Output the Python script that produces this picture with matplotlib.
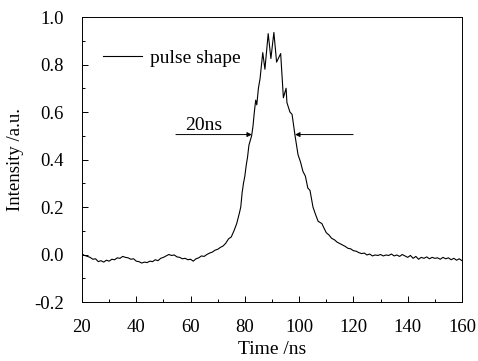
"""Pulse shape trace with FWHM arrows."""
import numpy as np
import matplotlib
matplotlib.use("Agg")
import matplotlib.pyplot as plt
from matplotlib.ticker import MultipleLocator

# -------------------------------------------------------
# Data.
# -------------------------------------------------------
time_ns = [
    20, 21, 22, 23, 24, 25, 26, 27, 28, 29,
    30, 31, 32, 33, 34, 35, 36, 37, 38, 39,
    40, 41, 42, 43, 44, 45, 46, 47, 48, 49,
    50, 51, 52, 53, 54, 55, 56, 57, 58, 59,
    60, 61, 62, 63, 64, 65, 66, 67, 68, 69,
    70, 71, 72, 73, 74, 75, 76, 77, 78, 78.5,
    79, 79.5, 80, 80.5, 81, 81.5, 82, 82.5, 83, 83.5,
    84, 84.4, 85, 85.6, 86.6, 87.4, 88.6, 89.6, 90.7, 91.7,
    93.2, 94.2, 95.2, 95.5, 96.6, 97.4, 98.5, 99.2, 99.6, 100.5,
    101.4, 102.3, 103.2, 104, 105.1, 106, 107, 108.4, 109, 110,
    111, 112, 113, 114, 115, 116, 117, 118, 119, 120,
    121, 122, 123, 124, 125, 126, 127, 128, 129, 130,
    131, 132, 133, 134, 135, 136, 137, 138, 139, 140,
    141, 142, 143, 144, 145, 146, 147, 148, 149, 150,
    151, 152, 153, 154, 155, 156, 157, 158, 159, 160,
]
intensity = [
    0.002, -0.004, -0.008, -0.012, -0.020, -0.018, -0.030, -0.026, -0.032, -0.024,
    -0.028, -0.020, -0.022, -0.014, -0.016, -0.008, -0.012, -0.014, -0.020, -0.018,
    -0.028, -0.030, -0.036, -0.032, -0.034, -0.028, -0.030, -0.022, -0.026, -0.016,
    -0.012, -0.006, 0.000, -0.004, -0.002, -0.010, -0.012, -0.018, -0.016, -0.022,
    -0.020, -0.028, -0.018, -0.014, -0.006, -0.008, 0.000, 0.006, 0.010, 0.018,
    0.022, 0.030, 0.036, 0.048, 0.066, 0.074, 0.100, 0.130, 0.175, 0.200,
    0.260, 0.300, 0.330, 0.375, 0.410, 0.460, 0.480, 0.500, 0.540, 0.600,
    0.650, 0.630, 0.700, 0.740, 0.850, 0.780, 0.930, 0.825, 0.935, 0.810,
    0.846, 0.660, 0.700, 0.640, 0.600, 0.590, 0.500, 0.450, 0.420, 0.390,
    0.350, 0.330, 0.280, 0.270, 0.200, 0.170, 0.140, 0.130, 0.115, 0.092,
    0.082, 0.068, 0.062, 0.052, 0.046, 0.040, 0.034, 0.026, 0.024, 0.016,
    0.014, 0.008, 0.004, 0.006, -0.002, 0.002, -0.006, -0.002, -0.004, 0.000,
    -0.006, -0.002, -0.004, 0.002, -0.006, -0.002, -0.008, 0.000, -0.006, -0.012,
    -0.004, -0.016, -0.008, -0.020, -0.012, -0.016, -0.010, -0.018, -0.012, -0.016,
    -0.014, -0.020, -0.012, -0.018, -0.014, -0.022, -0.016, -0.024, -0.018, -0.026,
]

# FWHM arrows: (tail x, head x) at the half-max level
fwhm_level = 0.505
left_arrow = (54.6, 82.6)
right_arrow = (119.9, 98.5)
fwhm_label = "20ns"

# -------------------------------------------------------
# Plot.
# -------------------------------------------------------
plt.rcParams["font.family"] = ["Liberation Serif", "DejaVu Serif"]
plt.rcParams["font.size"] = 13

fig = plt.figure(figsize=(4.78, 3.61), dpi=100)
ax = fig.add_axes([0.1715, 0.1634, 0.795, 0.7895])

ax.plot(time_ns, intensity, color="black", linewidth=0.8, label="pulse shape")

for tail, head in (left_arrow, right_arrow):
    ax.annotate(
        "",
        xy=(head, fwhm_level),
        xytext=(tail, fwhm_level),
        arrowprops=dict(arrowstyle="-|>", color="black", lw=0.7,
                        mutation_scale=7, shrinkA=0, shrinkB=0),
    )
ax.text(58, 0.525, fwhm_label, fontsize=14)

ax.set_xlim(20, 160)
ax.set_ylim(-0.2, 1.0)
ax.xaxis.set_major_locator(MultipleLocator(20))
ax.xaxis.set_minor_locator(MultipleLocator(10))
ax.yaxis.set_major_locator(MultipleLocator(0.2))
ax.yaxis.set_minor_locator(MultipleLocator(0.1))
ax.yaxis.set_major_formatter(plt.FormatStrFormatter("%.1f"))
ax.tick_params(which="both", direction="in", top=False, right=False)
ax.tick_params(which="major", length=4, width=0.7, labelsize=13.5)
ax.tick_params(axis="x", which="major", pad=12)
ax.tick_params(axis="y", which="major", pad=13)
ax.tick_params(which="minor", length=2, width=0.7)
for sp in ax.spines.values():
    sp.set_linewidth(0.7)

ax.set_xlabel("Time /ns", fontsize=14, labelpad=4)
ax.set_ylabel("Intensity /a.u.", fontsize=13.5, labelpad=7)

ax.legend(loc="upper left", bbox_to_anchor=(0.01, 0.948), frameon=False,
          handlelength=2.0, handletextpad=0.4, fontsize=14)

fig.savefig("out.png", dpi=100)
